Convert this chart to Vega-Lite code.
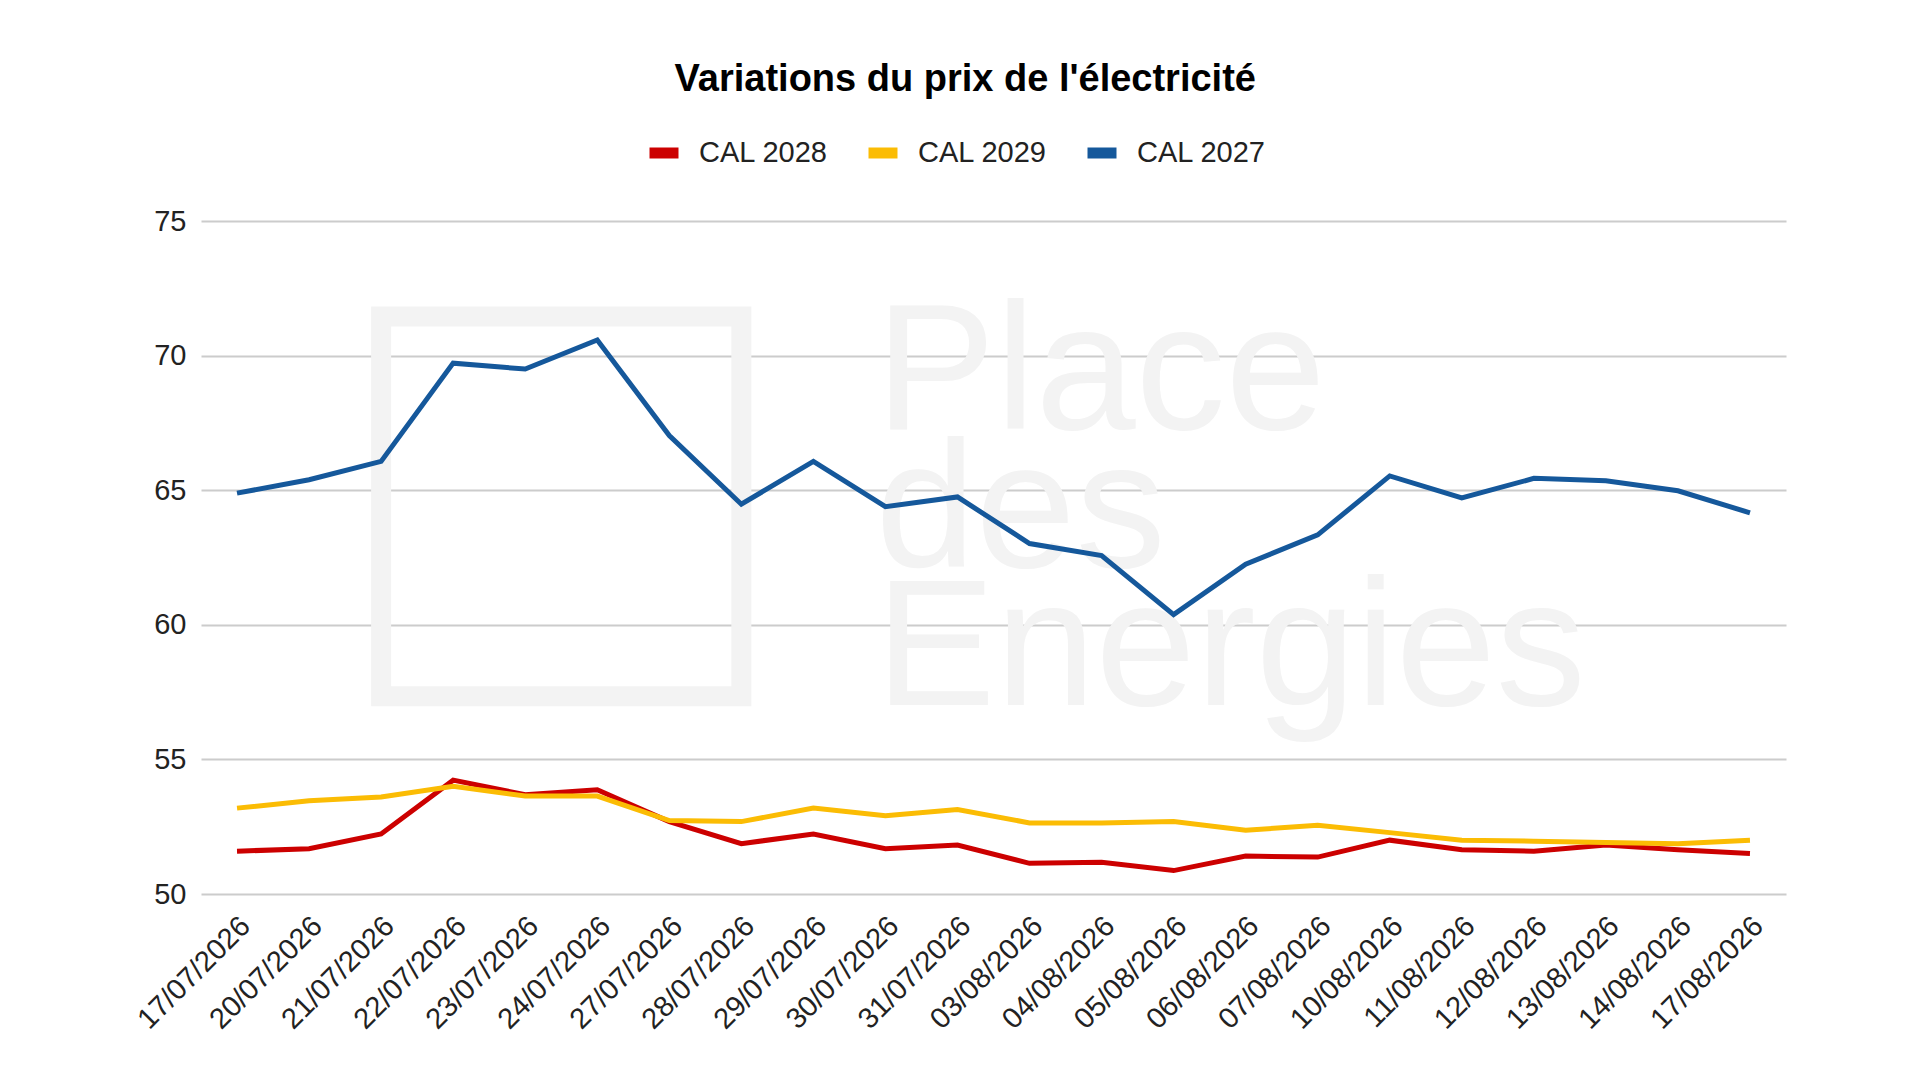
{
  "$schema": "https://vega.github.io/schema/vega-lite/v6.json",
  "description": "Variations du prix de l'électricité, CAL 2027 / 2028 / 2029",
  "width": 1585,
  "height": 673,
  "autosize": {"type": "none"},
  "padding": {"left": 201, "top": 221, "right": 134, "bottom": 186},
  "background": "white",
  "title": {
    "text": "Variations du prix de l'électricité",
    "font": "Liberation Sans",
    "fontSize": 38,
    "fontWeight": "bold",
    "color": "#000000",
    "anchor": "middle",
    "frame": "bounds",
    "offset": 34,
    "dx": 6
  },
  "config": {
    "view": {"stroke": null},
    "font": "Liberation Sans",
    "axis": {
      "labelFont": "Liberation Sans",
      "labelFontSize": 29,
      "labelColor": "#222222",
      "domain": false,
      "ticks": false,
      "title": null
    },
    "legend": {
      "labelFont": "Liberation Sans",
      "labelFontSize": 29,
      "labelColor": "#222222"
    }
  },
  "layer": [
    {
      "data": {"values": [{}]},
      "mark": {"type": "rect", "fill": null, "stroke": "#f3f3f3", "strokeWidth": 20},
      "encoding": {
        "x": {"datum": "21/07/2026", "type": "ordinal"},
        "x2": {"datum": "28/07/2026"},
        "y": {"datum": 71.45, "type": "quantitative"},
        "y2": {"datum": 57.35}
      }
    },
    {
      "data": {"values": [{}]},
      "mark": {
        "type": "text",
        "text": ["Place", "des", "Energies"],
        "font": "Liberation Sans",
        "fontSize": 180,
        "lineHeight": 138,
        "align": "left",
        "baseline": "alphabetic",
        "dx": -10,
        "color": "#f3f3f3"
      },
      "encoding": {
        "x": {"datum": "30/07/2026", "type": "ordinal"},
        "y": {"datum": 67.26, "type": "quantitative"}
      }
    },
    {
      "data": {
        "values": [
          {"date": "17/07/2026", "CAL 2028": 51.59, "CAL 2029": 53.19, "CAL 2027": 64.89},
          {"date": "20/07/2026", "CAL 2028": 51.68, "CAL 2029": 53.46, "CAL 2027": 65.39},
          {"date": "21/07/2026", "CAL 2028": 52.23, "CAL 2029": 53.6, "CAL 2027": 66.07},
          {"date": "22/07/2026", "CAL 2028": 54.23, "CAL 2029": 54.0, "CAL 2027": 69.72},
          {"date": "23/07/2026", "CAL 2028": 53.69, "CAL 2029": 53.64, "CAL 2027": 69.5},
          {"date": "24/07/2026", "CAL 2028": 53.87, "CAL 2029": 53.64, "CAL 2027": 70.58},
          {"date": "27/07/2026", "CAL 2028": 52.69, "CAL 2029": 52.73, "CAL 2027": 67.03},
          {"date": "28/07/2026", "CAL 2028": 51.87, "CAL 2029": 52.69, "CAL 2027": 64.48},
          {"date": "29/07/2026", "CAL 2028": 52.23, "CAL 2029": 53.19, "CAL 2027": 66.07},
          {"date": "30/07/2026", "CAL 2028": 51.68, "CAL 2029": 52.91, "CAL 2027": 64.39},
          {"date": "31/07/2026", "CAL 2028": 51.82, "CAL 2029": 53.14, "CAL 2027": 64.75},
          {"date": "03/08/2026", "CAL 2028": 51.14, "CAL 2029": 52.64, "CAL 2027": 63.02},
          {"date": "04/08/2026", "CAL 2028": 51.18, "CAL 2029": 52.64, "CAL 2027": 62.57},
          {"date": "05/08/2026", "CAL 2028": 50.87, "CAL 2029": 52.69, "CAL 2027": 60.38},
          {"date": "06/08/2026", "CAL 2028": 51.41, "CAL 2029": 52.37, "CAL 2027": 62.25},
          {"date": "07/08/2026", "CAL 2028": 51.37, "CAL 2029": 52.55, "CAL 2027": 63.34},
          {"date": "10/08/2026", "CAL 2028": 52.0, "CAL 2029": 52.28, "CAL 2027": 65.53},
          {"date": "11/08/2026", "CAL 2028": 51.64, "CAL 2029": 52.0, "CAL 2027": 64.71},
          {"date": "12/08/2026", "CAL 2028": 51.59, "CAL 2029": 51.96, "CAL 2027": 65.44},
          {"date": "13/08/2026", "CAL 2028": 51.82, "CAL 2029": 51.91, "CAL 2027": 65.35},
          {"date": "14/08/2026", "CAL 2028": 51.64, "CAL 2029": 51.87, "CAL 2027": 64.98},
          {"date": "17/08/2026", "CAL 2028": 51.5, "CAL 2029": 52.0, "CAL 2027": 64.16}
        ]
      },
      "transform": [
        {"fold": ["CAL 2028", "CAL 2029", "CAL 2027"], "as": ["serie", "prix"]}
      ],
      "mark": {"type": "line", "strokeWidth": 5},
      "encoding": {
        "x": {
          "field": "date",
          "type": "ordinal",
          "sort": null,
          "scale": {
            "type": "point",
            "padding": 0.5,
            "domain": [
              "17/07/2026", "20/07/2026", "21/07/2026", "22/07/2026", "23/07/2026",
              "24/07/2026", "27/07/2026", "28/07/2026", "29/07/2026", "30/07/2026",
              "31/07/2026", "03/08/2026", "04/08/2026", "05/08/2026", "06/08/2026",
              "07/08/2026", "10/08/2026", "11/08/2026", "12/08/2026", "13/08/2026",
              "14/08/2026", "17/08/2026"
            ]
          },
          "axis": {
            "title": null,
            "labelAngle": -45,
            "labelAlign": "right",
            "labelBaseline": "middle",
            "labelPadding": 27,
            "labelOffset": 8,
            "grid": false
          }
        },
        "y": {
          "field": "prix",
          "type": "quantitative",
          "scale": {"domain": [50, 75], "nice": false, "zero": false},
          "axis": {
            "title": null,
            "values": [50, 55, 60, 65, 70, 75],
            "grid": true,
            "gridColor": "#cccccc",
            "gridWidth": 2,
            "labelPadding": 15
          }
        },
        "color": {
          "field": "serie",
          "type": "nominal",
          "sort": null,
          "scale": {
            "domain": ["CAL 2028", "CAL 2029", "CAL 2027"],
            "range": ["#cc0000", "#fbbc04", "#15589b"]
          },
          "legend": {
            "title": null,
            "orient": "none",
            "direction": "horizontal",
            "legendX": 443,
            "legendY": -88,
            "symbolType": "stroke",
            "symbolStrokeWidth": 11,
            "symbolSize": 841,
            "labelOffset": 15,
            "columnPadding": 18
          }
        }
      }
    }
  ]
}
